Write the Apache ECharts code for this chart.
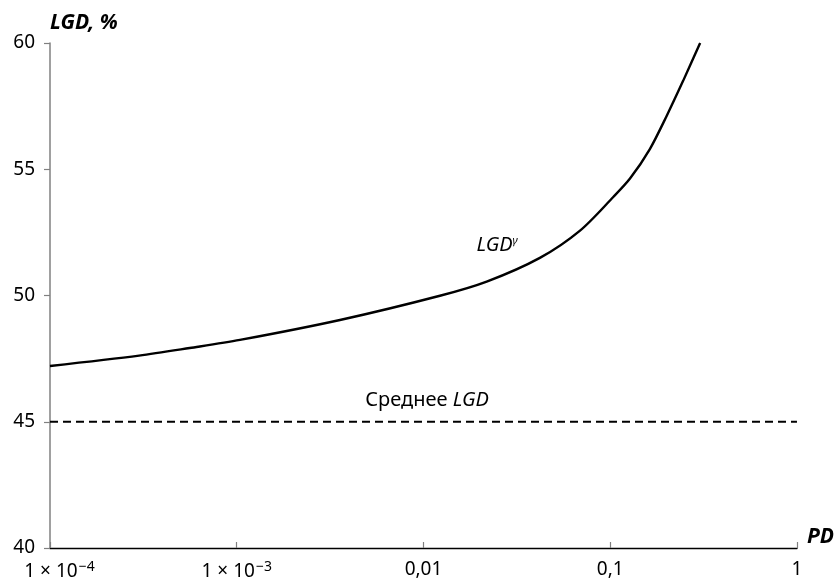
<!DOCTYPE html>
<html>
<head>
<meta charset="utf-8">
<script src="https://cdn.jsdelivr.net/npm/echarts@6/dist/echarts.min.js"></script>
<style>
  html, body { margin: 0; padding: 0; background: #fff; }
  #chart { width: 837px; height: 581px; }
</style>
</head>
<body>
<div id="chart"></div>
<script>
// PD (probability of default) and the resulting LGD^γ, %
const pdValues  = [0.0001, 0.0003, 0.00056, 0.00104, 0.00357, 0.01225, 0.0218, 0.042, 0.0689, 0.1038, 0.1276, 0.163, 0.2005, 0.246, 0.303];
const lgdValues = [47.21, 47.62, 47.92, 48.24, 49.03, 49.99, 50.55, 51.49, 52.57, 53.90, 54.63, 55.80, 57.11, 58.51, 60.0];

// Average LGD level, %
const meanLgd = 45;

// Tick labels of the logarithmic PD axis, keyed by decade exponent
const xTickLabels = {
  '-4': '{f|1} × 10{sup|−4}',
  '-3': '1 × 10{sup|−3}',
  '-2': '0,01',
  '-1': '0,1',
  '0': '1'
};

const FONT = '"Noto Sans", sans-serif';

const chart = echarts.init(document.getElementById('chart'));

const curve = pdValues.map((pd, i) => [pd, lgdValues[i]]);
const meanLine = [[0.0001, meanLgd], [1, meanLgd]];

chart.setOption({
  animation: false,
  grid: { left: 50, right: 40, top: 43, bottom: 33 },
  xAxis: {
    type: 'log',
    logBase: 10,
    min: 0.0001,
    max: 1,
    name: 'PD',
    nameLocation: 'end',
    nameGap: 10,
    nameTextStyle: {
      fontFamily: FONT, fontSize: 21, fontWeight: 'bold', fontStyle: 'italic',
      color: '#000', verticalAlign: 'bottom'
    },
    axisLine: { onZero: false, lineStyle: { color: '#000', width: 1.4 } },
    axisTick: { inside: true, length: 6, lineStyle: { color: '#808080', width: 1.2 } },
    splitLine: { show: false },
    axisLabel: {
      margin: 12,
      fontFamily: FONT, fontSize: 19, color: '#000',
      formatter: v => xTickLabels[String(Math.round(Math.log10(v)))] || '',
      rich: {
        f: { fontFamily: FONT, fontSize: 19, color: '#000', padding: [0, 0, 0, 19] },
        sup: { fontFamily: FONT, fontSize: 14, color: '#000', padding: [0, 0, 9, 1] }
      }
    }
  },
  yAxis: {
    type: 'value',
    min: 40,
    max: 60,
    interval: 5,
    name: '{b|LGD, %}',
    nameLocation: 'end',
    nameGap: 9,
    nameTextStyle: {
      align: 'left',
      rich: {
        b: { fontFamily: FONT, fontSize: 21, fontWeight: 'bold', fontStyle: 'italic', color: '#000' }
      }
    },
    axisLine: { show: true, lineStyle: { color: '#808080', width: 1.5 } },
    axisTick: { show: true, length: 6, lineStyle: { color: '#808080', width: 1.2 } },
    splitLine: { show: false },
    axisLabel: { margin: 15, fontFamily: FONT, fontSize: 19, color: '#000' }
  },
  series: [
    {
      name: 'LGDγ',
      type: 'line',
      data: curve,
      smooth: 0.3,
      showSymbol: false,
      lineStyle: { color: '#000', width: 2.4 },
      z: 3
    },
    {
      name: 'Среднее LGD',
      type: 'line',
      data: meanLine,
      showSymbol: false,
      lineStyle: { color: '#000', width: 2, type: [8, 5] },
      z: 2
    }
  ]
});

// Curve and mean-level captions, placed in data coordinates
const capCurve = chart.convertToPixel({ gridIndex: 0 }, [0.0248, 52.0]);
const capMean = chart.convertToPixel({ gridIndex: 0 }, [0.01045, 45.86]);

chart.setOption({
  graphic: [
    {
      type: 'text',
      x: capCurve[0], y: capCurve[1],
      style: {
        text: '{i|LGD}{s|γ}',
        align: 'center', verticalAlign: 'middle',
        rich: {
          i: { fontFamily: FONT, fontSize: 20, fontStyle: 'italic', fill: '#000' },
          s: { fontFamily: FONT, fontSize: 11, fontStyle: 'italic', fill: '#000', padding: [0, 0, 9, 0] }
        }
      }
    },
    {
      type: 'text',
      x: capMean[0], y: capMean[1],
      style: {
        text: '{r|Среднее }{i|LGD}',
        align: 'center', verticalAlign: 'middle',
        rich: {
          r: { fontFamily: FONT, fontSize: 20, fill: '#000' },
          i: { fontFamily: FONT, fontSize: 20, fontStyle: 'italic', fill: '#000' }
        }
      }
    }
  ]
});
</script>
</body>
</html>
